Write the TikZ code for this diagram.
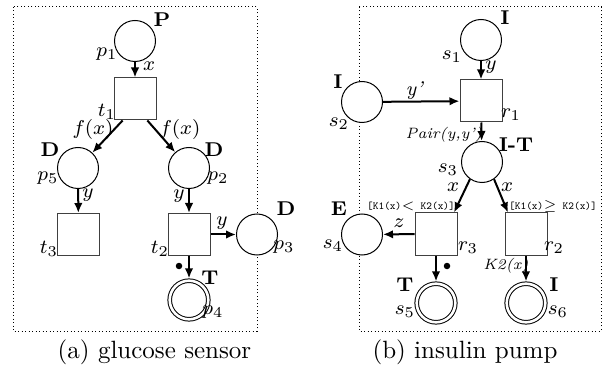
\documentclass[tikz,border=0pt]{standalone}
\usepackage{amsmath,amssymb}
\usepackage{tikz}
\usetikzlibrary{arrows.meta}
\tikzset{every picture/.append style={font=\footnotesize}}
\tikzset{
  place/.style={circle,draw,thin,minimum size=16.4pt,inner sep=0pt},
  endplace/.style={circle,draw,thin,double,double distance=1.04pt,minimum size=15.44pt,inner sep=0pt,outer sep=0.92pt},
  trans/.style={rectangle,draw=black!75,thin,minimum size=16.8pt,inner sep=0pt},
  token/.style={circle,fill,inner sep=0pt,minimum size=2.6pt},
  arc/.style={-{Latex[length=4pt,width=3.4pt]},line width=0.8pt},
  lbl/.style={inner sep=0pt},
  guard/.style={inner sep=0pt,font=\fontsize{4.3}{5}\selectfont\ttfamily},
  small/.style={inner sep=0pt,font=\fontsize{6}{7}\selectfont\itshape},
  frame/.style={densely dotted,thin}
}

\begin{document}
\begin{tikzpicture}[x=0.4pt,y=-0.4pt]
    \useasboundingbox (0,0) rectangle (612,372);
    % (a) glucose sensor
    \draw[frame] (13,7) rectangle (257,331);
    \node[place] (p1) at (135,41) {};
    \node[trans] (t1) at (135,99) {};
    \node[place] (p5) at (78,168) {};
    \node[place] (p2) at (189,168) {};
    \node[trans] (t3) at (78.5,234.5) {};
    \node[trans] (t2) at (189,234.5) {};
    \node[place,fill=white] (p3) at (257,234.5) {};
    \node[endplace] (p4) at (189,300) {};
    \node[token] (tk1) at (179,266) {};
    \draw[arc] (p1) -- (t1);
    \draw[arc] (t1.240) -- (p5);
    \draw[arc] (t1.300) -- (p2);
    \draw[arc] (p5) -- (t3);
    \draw[arc] (p2) -- (t2);
    \draw[arc] (t2) -- (p3);
    \draw[arc] (t2) -- (p4);
    \node[lbl] (lP) at (162,20) {\textbf{P}};
    \node[lbl] (lp1) at (107,54) {$p_1$};
    \node[lbl] (lx1) at (149,66) {$x$};
    \node[lbl] (lt1) at (107,112) {$t_1$};
    \node[lbl] (lf1) at (93,130) {$f(x)$};
    \node[lbl] (lf2) at (180,130) {$f(x)$};
    \node[lbl] (lD1) at (50,150) {\textbf{D}};
    \node[lbl] (lD2) at (214,150) {\textbf{D}};
    \node[lbl] (lp5) at (48,178) {$p_5$};
    \node[lbl] (lp2) at (218,178) {$p_2$};
    \node[lbl] (ly1) at (88,195) {$y$};
    \node[lbl] (ly2) at (179,196) {$y$};
    \node[lbl] (lt3) at (49,249) {$t_3$};
    \node[lbl] (lt2) at (160,249) {$t_2$};
    \node[lbl] (ly3) at (222,223) {$y$};
    \node[lbl] (lD3) at (286,209) {\textbf{D}};
    \node[lbl] (lp3) at (284,247) {$p_3$};
    \node[lbl] (lT1) at (210,278) {\textbf{T}};
    \node[lbl] (lp4) at (213,312) {$p_4$};
    \node[font=\normalsize,inner sep=0pt] (capa) at (154.5,352) {(a) glucose sensor};
    % (b) insulin pump
    \draw[frame] (359,7) rectangle (601,331);
    \node[place] (s1) at (481,40) {};
    \node[trans] (r1) at (481,101) {};
    \node[place,fill=white] (s2) at (362,102) {};
    \node[place] (s3) at (482,162) {};
    \node[trans] (r3) at (436,234) {};
    \node[trans] (r2) at (526,234) {};
    \node[place,fill=white] (s4) at (362,234.5) {};
    \node[endplace] (s5) at (436,303) {};
    \node[endplace] (s6) at (526,303) {};
    \node[token] (tk2) at (447,266) {};
    \draw[arc] (s1) -- (r1);
    \draw[arc] (s2) -- (r1);
    \draw[arc] (r1) -- (s3);
    \draw[arc] (s3.235) -- (r3.50);
    \draw[arc] (s3.305) -- (r2.130);
    \draw[arc] (r3) -- (s4);
    \draw[arc] (r3) -- (s5);
    \draw[arc] (r2) -- (s6);
    \node[lbl] (lI1) at (505,18) {\textbf{I}};
    \node[lbl] (ls1) at (452,57) {$s_1$};
    \node[lbl] (ly4) at (491,67) {$y$};
    \node[lbl] (lI2) at (338,82) {\textbf{I}};
    \node[lbl] (ls2) at (339,124) {$s_2$};
    \node[lbl] (ly5) at (415,91) {\textit{y'}};
    \node[lbl] (lr1) at (511,115) {$r_1$};
    \node[small] (lpair) at (444,135) {Pair(y,y')};
    \node[lbl] (lIT) at (516,145) {\textbf{I-T}};
    \node[lbl] (ls3) at (448,170) {$s_3$};
    \node[lbl] (lx2) at (453,187) {$x$};
    \node[lbl] (lx3) at (507,187) {$x$};
    \node[guard] (lg1) at (411,206) {[K1(x)$<$ K2(x)]};
    \node[guard] (lg2) at (553,206) {[K1(x)$\geq$ K2(x)]};
    \node[lbl] (lE) at (339,209) {\textbf{E}};
    \node[lbl] (lz) at (399,223) {$z$};
    \node[lbl] (ls4) at (333,246) {$s_4$};
    \node[lbl] (lr3) at (468,248) {$r_3$};
    \node[lbl] (lr2) at (554,248) {$r_2$};
    \node[small] (lk2) at (506,266) {K2(x)};
    \node[lbl] (lT2) at (405,285) {\textbf{T}};
    \node[lbl] (ls5) at (405,312) {$s_5$};
    \node[lbl] (lI3) at (554,285) {\textbf{I}};
    \node[lbl] (ls6) at (558,312) {$s_6$};
    \node[font=\normalsize,inner sep=0pt] (capb) at (465,352) {(b) insulin pump};
  \end{tikzpicture}
\end{document}
